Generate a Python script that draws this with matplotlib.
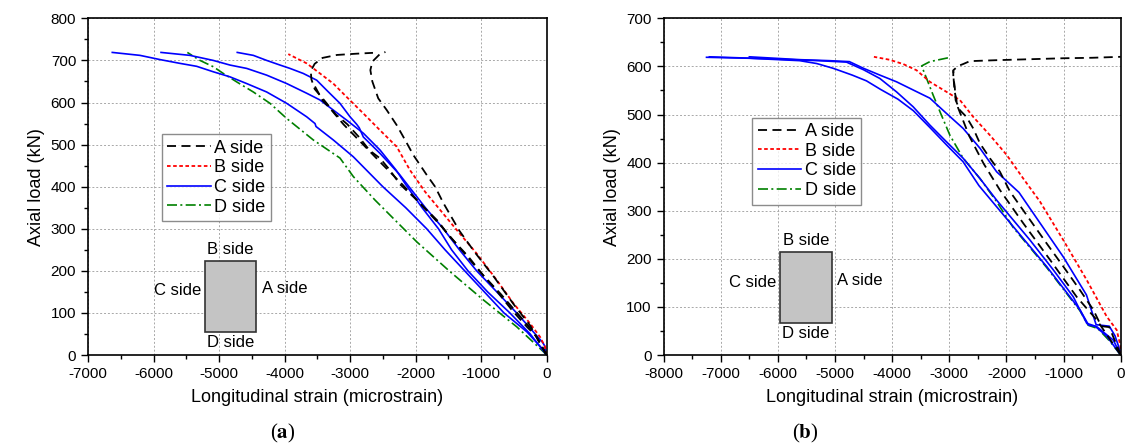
import numpy as np
import matplotlib
matplotlib.use("Agg")
import matplotlib.pyplot as plt
from matplotlib.patches import Rectangle
from matplotlib.ticker import MultipleLocator

plt.rcParams['font.family'] = ['Liberation Sans', 'DejaVu Sans']
plt.rcParams['mathtext.fontset'] = 'stix'
plt.rcParams['axes.unicode_minus'] = False

# ---- panel (a): (strain in microstrain, load in kN) ----
a_side_A1 = [(0, 0), (-250, 70), (-500, 120), (-800, 185), (-1100, 245), (-1330, 295),
             (-1575, 361), (-1702, 400), (-1830, 428), (-2033, 475), (-2160, 511),
             (-2287, 546), (-2440, 582), (-2570, 610), (-2660, 650), (-2690, 677),
             (-2660, 697), (-2545, 715), (-2460, 720)]
a_side_A2 = [(0, 0), (-150, 43), (-300, 67), (-530, 107), (-810, 162), (-960, 188),
             (-1200, 235), (-1500, 285), (-1650, 317), (-2020, 374), (-2240, 406),
             (-2390, 439), (-2540, 467), (-2700, 486), (-2870, 519), (-3040, 548),
             (-3220, 572), (-3420, 610), (-3540, 632), (-3590, 655), (-3600, 675),
             (-3540, 692), (-3420, 706), (-3200, 713), (-2900, 716), (-2650, 718)]
a_side_A3 = [(0, 0), (-200, 55), (-450, 100), (-700, 145), (-1000, 195), (-1300, 250),
             (-1600, 305), (-1900, 355), (-2200, 405), (-2500, 452), (-2800, 500),
             (-3100, 548), (-3300, 585), (-3420, 605), (-3500, 628), (-3560, 645)]
a_side_B = [(0, 0), (-25, 20), (-99, 43), (-252, 75), (-507, 123), (-760, 178),
            (-1066, 241), (-1371, 297), (-1855, 388), (-2084, 439), (-2288, 495),
            (-2542, 534), (-2797, 574), (-3051, 613), (-3256, 645), (-3459, 669),
            (-3662, 693), (-3943, 715)]
a_side_C1 = [(0, 0), (-25, 8), (-300, 55), (-650, 100), (-950, 150), (-1250, 200),
             (-1550, 250), (-1830, 300), (-2150, 350), (-2500, 400), (-2950, 471),
             (-3256, 511), (-3520, 543), (-3535, 550), (-3662, 566), (-3967, 598),
             (-4273, 625), (-4578, 645), (-4834, 661), (-5088, 673), (-5342, 686),
             (-5597, 693), (-5902, 702), (-6207, 712), (-6630, 719)]
a_side_C2 = [(0, 0), (-250, 50), (-560, 100), (-900, 150), (-1200, 200), (-1450, 250),
             (-1650, 300), (-1900, 350), (-2150, 405), (-2300, 440), (-2542, 487),
             (-2797, 527), (-3051, 558), (-3256, 582), (-3459, 606), (-3662, 622),
             (-3967, 645), (-4273, 665), (-4578, 681), (-4834, 689), (-5088, 700),
             (-5444, 712), (-5886, 719)]
a_side_C3 = [(0, 0), (-30, 22), (-60, 30), (-457, 100), (-760, 150), (-1067, 200),
             (-1330, 250), (-1575, 300), (-1850, 350), (-2100, 400), (-2250, 430),
             (-2542, 479), (-2797, 518), (-2860, 540), (-2898, 548), (-3000, 566),
             (-3154, 598), (-3356, 629), (-3509, 653), (-3714, 669), (-3917, 681),
             (-4070, 689), (-4273, 700), (-4477, 712), (-4722, 719)]
a_side_D = [(0, 0), (-49, 8), (-455, 67), (-965, 131), (-1473, 198), (-1982, 269),
            (-2618, 368), (-2950, 424), (-3154, 468), (-3561, 511), (-3967, 562),
            (-4222, 598), (-4477, 625), (-4731, 649), (-4935, 669), (-5088, 685),
            (-5291, 700), (-5484, 719)]

# ---- panel (b) ----
b_side_A1 = [(0, 0), (-420, 73), (-771, 121), (-1238, 198), (-1706, 274), (-2114, 343),
             (-2400, 398), (-2650, 455), (-2850, 515), (-2910, 550), (-2925, 575),
             (-2930, 592)]
b_side_A2 = [(0, 0), (-200, 58), (-340, 60), (-480, 94), (-713, 135), (-1005, 184),
             (-1296, 232), (-1588, 281), (-1939, 340), (-2114, 381), (-2289, 409),
             (-2464, 440), (-2581, 471), (-2700, 495), (-2814, 509), (-2890, 530),
             (-2905, 558), (-2930, 578), (-2931, 592), (-2844, 601), (-2757, 605),
             (-2640, 611), (-2172, 613), (-1588, 615), (-1005, 617), (-500, 618),
             (0, 620)]
b_side_B = [(0, 0), (0, 17), (-70, 52), (-245, 80), (-595, 156), (-1005, 239),
            (-1413, 319), (-1706, 367), (-1996, 416), (-2289, 457), (-2581, 495),
            (-2814, 530), (-3047, 547), (-3340, 568), (-3573, 592), (-3808, 605),
            (-4050, 614), (-4320, 620)]
b_side_C1 = [(0, 5), (-100, 40), (-200, 60), (-430, 63), (-600, 125), (-1005, 204),
             (-1780, 338), (-2172, 381), (-2464, 430), (-2757, 471), (-3047, 502),
             (-3340, 534), (-3632, 551), (-3923, 568), (-4216, 582), (-4500, 596),
             (-4750, 610), (-5100, 612), (-5600, 614), (-6500, 620)]
b_side_C2 = [(0, 0), (-130, 31), (-420, 59), (-595, 66), (-830, 121), (-1180, 177),
             (-1588, 239), (-2172, 322), (-2464, 367), (-2757, 409), (-3047, 443),
             (-3340, 478), (-3632, 516), (-3923, 547), (-4216, 575), (-4500, 593),
             (-4800, 609), (-5300, 612), (-6200, 616), (-7200, 620)]
b_side_C3 = [(0, 0), (-250, 40), (-450, 60), (-560, 62), (-713, 94), (-1296, 184),
             (-1881, 267), (-2480, 352), (-2760, 402), (-3050, 437), (-3340, 473),
             (-3630, 508), (-3900, 532), (-4200, 552), (-4450, 570), (-4700, 582),
             (-5030, 596), (-5320, 606), (-5620, 612), (-6500, 617), (-7250, 619)]
b_side_D = [(0, 0), (-200, 30), (-400, 55), (-570, 62), (-713, 92), (-1296, 182),
            (-1881, 265), (-2172, 319), (-2464, 367), (-2757, 409), (-2990, 457),
            (-3164, 506), (-3282, 540), (-3398, 575), (-3485, 601), (-3340, 610),
            (-3019, 618)]

legend_labels = ['A side', 'B side', 'C side', 'D side']
col = {'A': 'black', 'B': '#ff0000', 'C': '#0000ff', 'D': '#008000'}
sty = {'A': (0, (5, 3)), 'B': (0, (2, 1.4)), 'C': '-', 'D': (0, (6, 2, 1.2, 2))}
lw = {'A': 1.3, 'B': 1.3, 'C': 1.2, 'D': 1.2}


def draw(ax, curves):
    handles = {}
    for side, pts in curves:
        arr = np.array(pts, dtype=float)
        ln, = ax.plot(arr[:, 0], arr[:, 1], color=col[side], ls=sty[side], lw=lw[side])
        handles.setdefault(side, ln)
    return [handles[k] for k in 'ABCD']


def style(ax, xmin, ymax):
    ax.set_xlim(xmin, 0)
    ax.set_ylim(0, ymax)
    ax.xaxis.set_major_locator(MultipleLocator(1000))
    ax.xaxis.set_minor_locator(MultipleLocator(500))
    ax.yaxis.set_major_locator(MultipleLocator(100))
    ax.yaxis.set_minor_locator(MultipleLocator(50))
    ax.tick_params(which='major', direction='out', length=5, width=1, labelsize=11)
    ax.tick_params(which='minor', direction='out', length=3, width=1)
    ax.grid(True, which='major', color='#a8a8a8', ls=(0, (2, 2)), lw=0.7)
    for s in ax.spines.values():
        s.set_linewidth(1.2)
    ax.set_xlabel('Longitudinal strain (microstrain)', fontsize=13, labelpad=6)
    ax.set_ylabel('Axial load (kN)', fontsize=13, labelpad=4)


def section(ax, rect, labs):
    x0, y0, w, h = rect
    ax.add_patch(Rectangle((x0, y0), w, h, transform=ax.transAxes, facecolor='#c4c4c4',
                           edgecolor='#333333', lw=1.2, zorder=3))
    kw = dict(transform=ax.transAxes, fontsize=12, zorder=4)
    ax.text(x0 + w / 2, y0 + h + 0.01, 'B side', ha='center', va='bottom', **kw)
    ax.text(x0 + w / 2, y0 - 0.01, 'D side', ha='center', va='top', **kw)
    ax.text(x0 - 0.008, labs[0], 'C side', ha='right', va='center', **kw)
    ax.text(x0 + w + 0.012, labs[1], 'A side', ha='left', va='center', **kw)


fig = plt.figure(figsize=(11.26, 4.45), dpi=100)
ax1 = fig.add_axes([0.0782, 0.2022, 0.4072, 0.7566])
ax2 = fig.add_axes([0.5894, 0.2022, 0.4059, 0.7566])

h1 = draw(ax1, [('D', a_side_D), ('C', a_side_C1), ('C', a_side_C2), ('C', a_side_C3),
                ('B', a_side_B), ('A', a_side_A1), ('A', a_side_A2), ('A', a_side_A3)])
h2 = draw(ax2, [('D', b_side_D), ('C', b_side_C1), ('C', b_side_C2), ('C', b_side_C3),
                ('B', b_side_B), ('A', b_side_A1), ('A', b_side_A2)])

style(ax1, -7000, 800)
style(ax2, -8000, 700)

for ax, h, anchor in [(ax1, h1, (0.161, 0.656)), (ax2, h2, (0.194, 0.705))]:
    leg = ax.legend(h, legend_labels, loc='upper left', bbox_to_anchor=anchor,
                    fontsize=13, frameon=True, fancybox=False, shadow=False,
                    handlelength=2.4, handletextpad=0.2, borderpad=0.3,
                    labelspacing=0.15, borderaxespad=0)
    leg.get_frame().set_edgecolor('#707070')
    leg.get_frame().set_linewidth(1.0)
    leg.set_zorder(5)

section(ax1, (0.254, 0.068, 0.113, 0.212), (0.193, 0.199))
section(ax2, (0.254, 0.096, 0.114, 0.211), (0.216, 0.221))

fig.text(0.251, 0.027, r'($\mathbf{a}$)', ha='center', va='center', fontsize=15,
         family='Liberation Serif')
fig.text(0.715, 0.027, r'($\mathbf{b}$)', ha='center', va='center', fontsize=15,
         family='Liberation Serif')

fig.savefig('out.png', dpi=100)
